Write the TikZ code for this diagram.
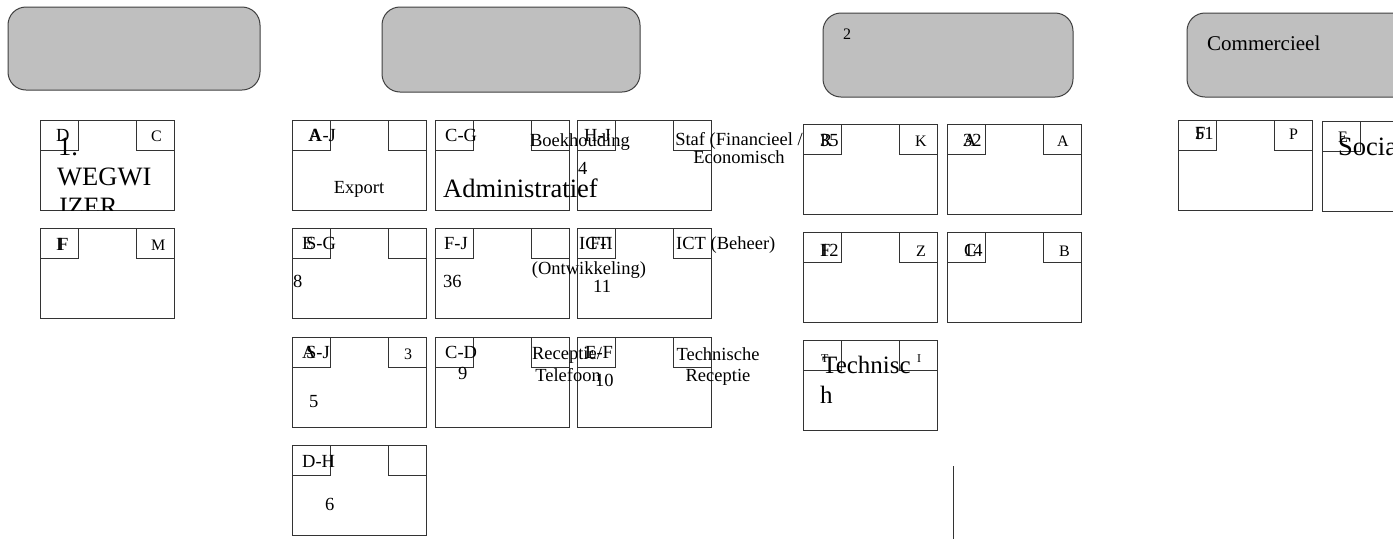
\documentclass[tikz,border=0pt]{standalone}
\usepackage{fontspec}
\setmainfont{Liberation Serif}
\newcommand\fsz[1]{\fontsize{#1}{#1}\selectfont}
% one department card: outer cell plus two small tabs in its top corners
\newcommand\deptcard[2]{%
  \node[cell] (#1) at (#2) {};
  \node[tab] (#1-l) at (#1.north west) {};
  \node[tab, anchor=north east] (#1-r) at (#1.north east) {};
}
\tikzset{
  head/.style={draw=black!75, fill=black!25, rounded corners=18pt, line width=1pt,
    anchor=north west, inner sep=0pt, outer sep=0pt},
  cell/.style={draw=black!80, line width=0.9pt, anchor=north west, inner sep=0pt,
    outer sep=0pt, minimum width=134pt, minimum height=90pt},
  tab/.style={draw=black!80, line width=0.9pt, anchor=north west, inner sep=0pt,
    outer sep=0pt, minimum width=38pt, minimum height=30pt},
  lbl/.style={anchor=base west, inner sep=0pt, font=\fsz{18.5}},
  lblc/.style={anchor=base, inner sep=0pt, font=\fsz{18.5}},
  big/.style={anchor=base west, inner sep=0pt, font=\fsz{26.5}},
  tag/.style={anchor=base west, inner sep=0pt, font=\fsz{16}},
  wee/.style={anchor=base west, inner sep=0pt, font=\fsz{12}},
}
\begin{document}
\begin{tikzpicture}[x=1pt, y=-1pt]
\clip (0,0) rectangle (1393,539);
\fill[white] (0,0) rectangle (1393,539);

% header bars
\node[head, minimum width=252pt, minimum height=83pt] (h1) at (8,7) {};
\node[head, minimum width=258pt, minimum height=85pt] (h2) at (382,7) {};
\node[head, minimum width=250pt, minimum height=84pt] (h3) at (823,13) {};
\node[head, minimum width=260pt, minimum height=84pt] (h4) at (1187,13) {};
\node[lbl, font=\fsz{16}] (h3t) at (843,39) {2};
\node[big, font=\fsz{21}] (h4t) at (1207,50) {Commercieel};

% left column
\deptcard{wg}{40,120}
\deptcard{fm}{40,228}
\begin{scope}
  \clip (40,120) rectangle (174,210);
  \node[lbl] (wg-a) at (56,141) {D};
  \node[big] (wg-t) at (58,155) {1.};
  \node[big] (wg-u) at (57,185) {WEGWI};
  \node[big] (wg-v) at (57,215) {JZER};
\end{scope}
\node[tag] (wg-b) at (151,141) {C};
\node[lbl] (fm-a) at (56,250) {I};
\node[lbl] (fm-b) at (58,250) {F};
\node[tag] (fm-c) at (151,250) {M};

% second column, row 1
\deptcard{ex}{292,120}
\deptcard{ad}{435,120}
\deptcard{hj}{577,120}
\node[lbl] (ex-a) at (308,141) {A};
\node[lbl] (ex-b) at (309,141) {A-J};
\node[lblc] (ex-t) at (359,193) {Export};
\node[lbl] (ad-a) at (445,141) {C-G};
\node[lblc] (ad-b) at (580,146) {Boekhouding};
\node[big] (ad-t) at (443,197) {Administratief};
\node[lbl] (hj-a) at (584,141) {H-J};
\node[lbl] (hj-b) at (578,174) {4};
\node[lblc] (hj-c) at (739,145) {Staf (Financieel /};
\node[lblc] (hj-d) at (739,163) {Economisch};

% second column, row 2
\deptcard{sg}{292,228}
\deptcard{fj}{435,228}
\deptcard{fi}{577,228}
\node[lbl] (sg-a) at (302,249) {E};
\node[lbl] (sg-b) at (306,249) {S-G};
\node[lbl] (sg-c) at (293,287) {8};
\node[lbl] (fj-a) at (444,249) {F-J};
\node[lbl] (fj-b) at (443,287) {36};
\node[lbl] (fi-a) at (579,249) {ICT};
\node[lbl] (fi-b) at (590,249) {F-I};
\node[lblc] (fi-c) at (589,274) {(Ontwikkeling)};
\node[lbl] (fi-d) at (593,292) {11};
\node[lbl] (fi-e) at (676,249) {ICT (Beheer)};

% second column, row 3
\deptcard{sj}{292,337}
\deptcard{cd}{435,337}
\deptcard{ef}{577,337}
\node[lbl] (sj-a) at (302,358) {A};
\node[lbl] (sj-b) at (306,358) {S-J};
\node[tag] (sj-c) at (404,359) {3};
\node[lbl] (sj-d) at (309,407) {5};
\node[lbl] (cd-a) at (445,358) {C-D};
\node[lbl] (cd-b) at (458,379) {9};
\node[lblc] (cd-c) at (567,359) {Receptie/};
\node[lblc] (cd-d) at (568,381) {Telefoon};
\node[lbl] (ef-a) at (585,358) {E-F};
\node[lbl] (ef-b) at (595,386) {10};
\node[lblc] (ef-c) at (718,360) {Technische};
\node[lblc] (ef-d) at (718,381) {Receptie};

% second column, row 4
\deptcard{dh}{292,445}
\node[lbl] (dh-a) at (302,467) {D-H};
\node[lbl] (dh-b) at (325,510) {6};

% third column
\deptcard{rk}{803,124}
\deptcard{aa}{947,124}
\deptcard{fz}{803,232}
\deptcard{cb}{947,232}
\deptcard{te}{803,340}
\node[lbl] (rk-a) at (820,146) {R};
\node[lbl] (rk-b) at (820,146) {35};
\node[tag] (rk-c) at (915,146) {K};
\node[lbl] (aa-a) at (963,146) {A};
\node[lbl] (aa-b) at (963,146) {32};
\node[tag] (aa-c) at (1057,146) {A};
\node[lbl] (fz-a) at (820,256) {F};
\node[lbl] (fz-b) at (820,256) {12};
\node[tag] (fz-c) at (916,256) {Z};
\node[lbl] (cb-a) at (964,256) {C};
\node[lbl] (cb-b) at (964,256) {14};
\node[tag] (cb-c) at (1059,256) {B};
\node[wee] (te-a) at (821,362) {T};
\node[wee] (te-b) at (917,362) {I};
\node[big, font=\fsz{25}] (te-t) at (822,373) {Technisc};
\node[big, font=\fsz{25}] (te-u) at (820,403) {h};

% fourth column
\deptcard{pf}{1178,120}
\deptcard{so}{1322,121}
\node[lbl] (pf-a) at (1195,139) {F};
\node[lbl] (pf-b) at (1195,139) {51};
\node[tag] (pf-c) at (1289,139) {P};
\node[tag] (so-a) at (1338,142) {E};
\node[big] (so-t) at (1338,155) {Sociaal};

% loose vertical rule
\coordinate (v1) at (953,466);
\coordinate (v2) at (953,539);
\draw[black!80, line width=0.9pt] (v1) -- (v2);
\end{tikzpicture}
\end{document}
